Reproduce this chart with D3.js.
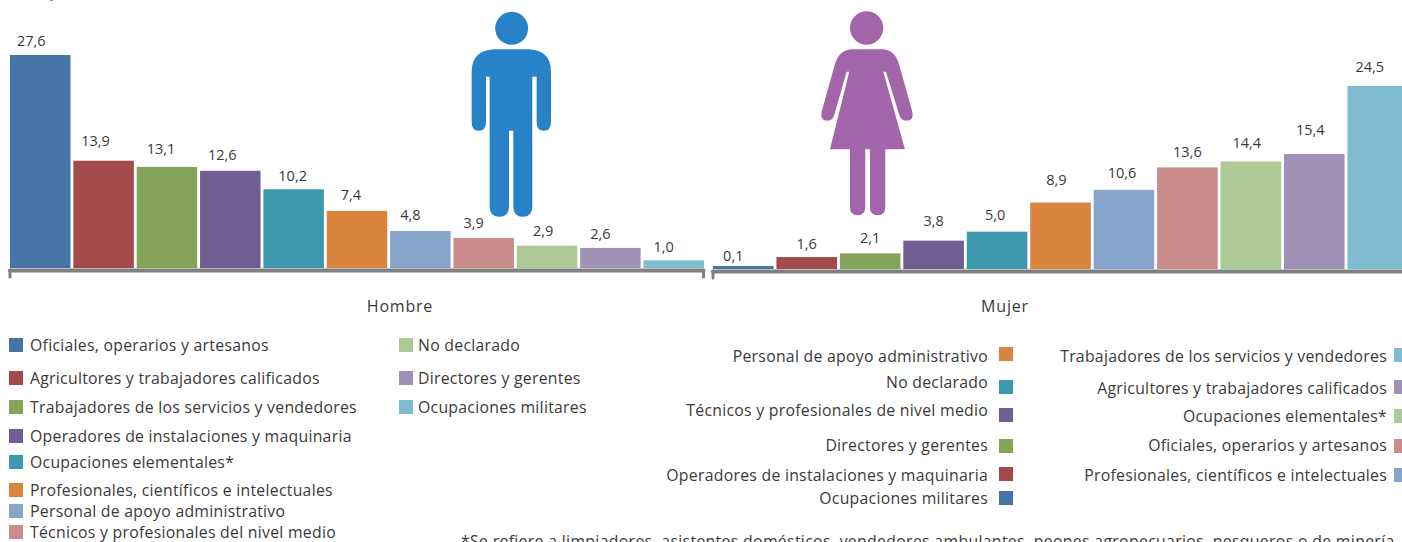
<!DOCTYPE html>
<html><head><meta charset="utf-8">
<script src="https://cdn.jsdelivr.net/npm/d3@7/dist/d3.min.js"></script>
<style>html,body{margin:0;padding:0;background:#fff;overflow:hidden}svg{display:block}text{font-family:"Open Sans","Noto Sans",sans-serif;fill:#3a3a3a}</style>
</head><body><svg id="c" width="1402" height="542"></svg>
<script>
const palette = ["#4674a6","#a54a4a","#84a45a","#705d92","#3c99ae","#d9853f","#87a4ca","#c98c8b","#adc996","#a092b7","#80bccf"];
const hombreValues = [27.6,13.9,13.1,12.6,10.2,7.4,4.8,3.9,2.9,2.6,1.0];
const mujerValues = [0.1,1.6,2.1,3.8,5.0,8.9,10.6,13.6,14.4,15.4,24.5];
const groupNames = ["Hombre","Mujer"];
const legendHombreA = ["Oficiales, operarios y artesanos","Agricultores y trabajadores calificados","Trabajadores de los servicios y vendedores","Operadores de instalaciones y maquinaria","Ocupaciones elementales*","Profesionales, científicos e intelectuales","Personal de apoyo administrativo","Técnicos y profesionales del nivel medio"];
const legendHombreB = ["No declarado","Directores y gerentes","Ocupaciones militares"];
const legendMujerA = ["Personal de apoyo administrativo","No declarado","Técnicos y profesionales de nivel medio","Directores y gerentes","Operadores de instalaciones y maquinaria","Ocupaciones militares"];
const legendMujerB = ["Trabajadores de los servicios y vendedores","Agricultores y trabajadores calificados","Ocupaciones elementales*","Oficiales, operarios y artesanos","Profesionales, científicos e intelectuales"];
const footnote = "*Se refiere a limpiadores, asistentes domésticos, vendedores ambulantes, peones agropecuarios, pesqueros o de minería.";

// layout only
const fs = 15.8, ls = "0.27px";
const hombreNudge = [[-9,-9],[-8,-15],[-6,-13],[-8,-11],[-1,-8],[-6,-11],[-10,-11],[-10,-10],[-4,-10],[-10,-9],[-10,-8]];
const mujerNudge = [[-10,-7],[0,-8],[0,-10],[0,-15],[-2,-12],[-4,-18],[-2,-12],[0,-10],[-4,-13],[-4,-19],[-8,-14]];
const svg = d3.select("#c");
const fmt = v => v.toFixed(1).replace(".",",");

function panel(values, x0, x1, base, maxY, nudge, name, labelX){
  const idx = d3.range(values.length);
  const x = d3.scaleBand().domain(idx).range([x0,x1]).paddingInner(0.045).paddingOuter(0);
  const y = d3.scaleLinear().domain([0,d3.max(values)]).range([base,maxY]);
  const g = svg.append("g");
  g.selectAll("rect").data(values).join("rect")
    .attr("x",(d,i)=>x(i)).attr("width",x.bandwidth())
    .attr("y",d=>Math.min(y(d),base-3)).attr("height",d=>Math.max(base-y(d),3)).attr("fill",(d,i)=>palette[i]);
  g.selectAll("text.v").data(values).join("text").attr("class","v")
    .attr("x",(d,i)=>x(i)+x.bandwidth()/2+nudge[i][0])
    .attr("y",(d,i)=>y(d)+nudge[i][1])
    .attr("text-anchor","middle").style("font-size","14.5px").text(fmt);
  const axis = d3.axisBottom(d3.scaleLinear().domain([0,1]).range([x0-0.5,x1-1])).tickValues([0,1]).tickFormat("").tickSize(7).tickSizeOuter(0);
  const a = g.append("g").attr("transform",`translate(0,${base+2})`).call(axis);
  a.selectAll("path,line").attr("stroke","#7f8080").attr("stroke-width",3).attr("stroke-linecap","round");
  a.select("path").attr("stroke-width",4);
  g.append("text").attr("x",labelX).attr("y",312).attr("text-anchor","middle").style("font-size","16px").style("letter-spacing","0.8px").text(name);
}
panel(hombreValues,10,704,268,55,hombreNudge,groupNames[0],400);
panel(mujerValues,713,1408,269,86,mujerNudge,groupNames[1],1005);

// figures
const manPath="M95 215Q95 150 165 148L265 148Q333 150 333 215L333 365Q333 392 311 392Q290 392 290 365L290 230L277 230L277 620Q277 650 248 650Q220 650 220 620L220 392L207 392L207 620Q207 650 178 650Q149 650 149 620L149 230L138 230L138 365Q138 392 116 392Q95 392 95 365Z";
const womanPath="M1235 148L1330 148Q1365 150 1378 195L1417 335Q1423 362 1398 362Q1383 362 1378 345L1338 215L1330 215L1395 448L1336 448L1336 620Q1336 646 1313 646Q1290 646 1290 620L1290 448L1276 448L1276 620Q1276 646 1253 646Q1230 646 1230 620L1230 448L1170 448L1228 215L1220 215L1183 345Q1178 362 1163 362Q1140 362 1145 335L1184 195Q1197 150 1235 148Z";
const fig = svg.append("g").attr("transform","translate(440,0) scale(0.3333)");
fig.append("path").attr("d",manPath).attr("fill","#2882c8");
fig.append("circle").attr("cx",215).attr("cy",85).attr("r",49.5).attr("fill","#2882c8");
fig.append("path").attr("d",womanPath).attr("fill","#a265a9");
fig.append("circle").attr("cx",1280).attr("cy",84).attr("r",50).attr("fill","#a265a9");
// sliver of a cropped heading at the very top edge
svg.append("rect").attr("x",50).attr("y",0).attr("width",3).attr("height",1).attr("fill","#5a9bdc");

// legends
function legendLeft(items, colors, sx, tx, ys){
  items.forEach((t,i)=>{
    svg.append("rect").attr("x",sx).attr("y",ys[i]-7).attr("width",14).attr("height",14).attr("fill",colors[i]);
    svg.append("text").attr("x",tx).attr("y",ys[i]+6).style("font-size",fs+"px").style("letter-spacing",ls).text(t);
  });
}
function legendRight(items, colors, sx, tx, swY, txY){
  items.forEach((t,i)=>{
    svg.append("rect").attr("x",sx).attr("y",swY[i]-7).attr("width",14).attr("height",14).attr("fill",colors[i]);
    svg.append("text").attr("x",tx).attr("y",txY[i]+6).attr("text-anchor","end").style("font-size",fs+"px").style("letter-spacing",ls).text(t);
  });
}
legendLeft(legendHombreA,palette.slice(0,8),9,30,[345,378,407,436,462,490,511,532]);
legendLeft(legendHombreB,palette.slice(8),399,418,[345,378,407]);
legendRight(legendMujerA,[5,4,3,2,1,0].map(i=>palette[i]),999,988,[354,387,415,446,474,498],[356,382,410,445,475,498]);
legendRight(legendMujerB,[10,9,8,7,6].map(i=>palette[i]),1394,1387,[355,387,416,446,475],[356,388,416,445,475]);
svg.append("text").attr("x",461).attr("y",547).style("font-size",fs+"px").style("letter-spacing","0.33px").text(footnote);
</script></body></html>
